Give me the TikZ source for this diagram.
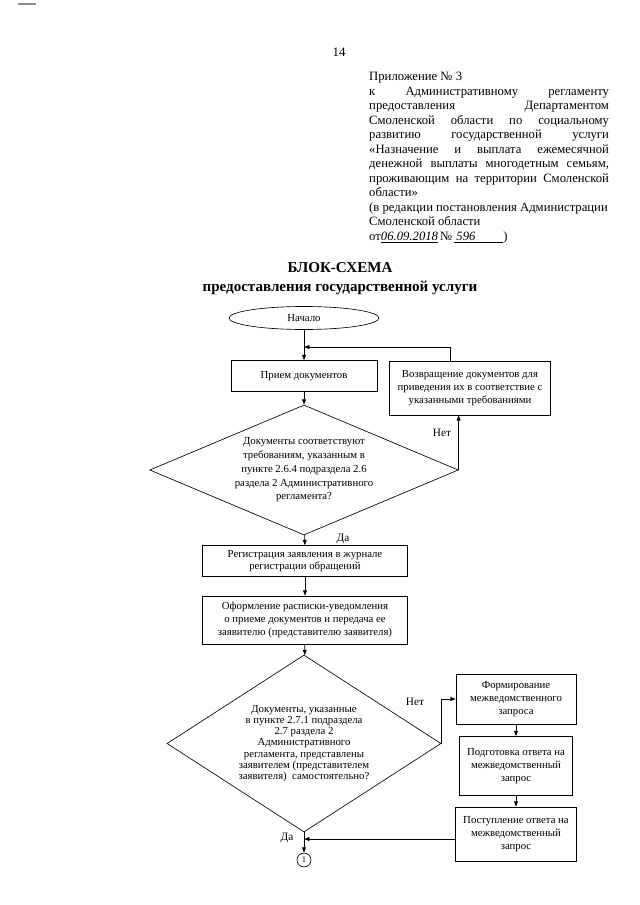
\documentclass[tikz,border=0pt]{standalone}
\usepackage{fontspec}
\setmainfont{Liberation Serif}
\usetikzlibrary{shapes, arrows.meta, positioning, calc}

\newcommand{\jline}[1]{\leavevmode\hbox to 223pt{#1}}

\tikzset{
  flowbox/.style={draw, line width=0.6pt, rectangle, align=center, inner sep=1pt,
    font=\fontsize{10}{11.8}\selectfont},
  decision/.style={draw, line width=0.6pt, diamond, inner sep=0pt},
  arr/.style={-{Triangle[length=5pt, width=3.6pt]}, line width=0.6pt},
  lbl/.style={font=\fontsize{10.5}{12}\selectfont, inner sep=1pt},
}

\begin{document}
\begin{tikzpicture}[x=0.93pt, y=-0.93pt]
  % page frame
  \fill[white] (0,0) rectangle (640,905);
  \useasboundingbox (0,0) rectangle (640,905);
  \draw[black!45, line width=1.3pt] (18,4) -- (36,4); % scan mark

  % Page number and appendix header
  \node[font=\fontsize{12}{14}\selectfont] (pgno) at (339, 52) {14};
  \node[anchor=north west, inner sep=0pt, align=left,
    font=\fontsize{11.8}{13.5}\selectfont] (appx) at (369, 72) {%
    Приложение № 3\\
    \jline{к\hfill Административному\hfill регламенту}\\
    \jline{предоставления\hfill Департаментом}\\
    \jline{Смоленской\hfill области\hfill по\hfill социальному}\\
    \jline{развитию\hfill государственной\hfill услуги}\\
    \jline{«Назначение\hfill и\hfill выплата\hfill ежемесячной}\\
    \jline{денежной\hfill выплаты\hfill многодетным\hfill семьям,}\\
    \jline{проживающим\hfill на\hfill территории\hfill Смоленской}\\
    области»\\
    (в редакции постановления Администрации\\
    Смоленской области\\
    от\underline{\textit{06.09.2018}}\,№\,\underline{\textit{\,596}\hspace{2.2em}})};

  % Title
  \node[font=\fontsize{14}{16}\selectfont\bfseries] (ttl) at (340, 268) {БЛОК-СХЕМА};
  \node[font=\fontsize{14}{16}\selectfont\bfseries] (subttl) at (340, 288)
    {предоставления государственной услуги};

  % Upper part of the flow
  \node[draw, ellipse, line width=0.6pt, minimum width=139.5pt, minimum height=21.4pt,
    inner sep=0pt, font=\fontsize{10}{12}\selectfont] (start) at (304, 318) {Начало};
  \coordinate (j1) at (304, 347);
  \node[flowbox, minimum width=135.8pt, minimum height=28.8pt] (priem) at (304, 376)
    {Прием документов};
  \node[flowbox, minimum width=150pt, minimum height=50.2pt] (vozvr) at (470, 388)
    {Возвращение документов для\\приведения их в соответствие с\\указанными требованиями};
  \node[decision, minimum width=287pt, minimum height=120.9pt] (d1) at (304, 470) {};
  \node[align=center, font=\fontsize{10}{12.8}\selectfont] (d1txt) at (d1.center)
    {Документы соответствуют\\требованиям, указанным в\\пункте 2.6.4 подраздела 2.6\\
     раздела 2 Административного\\регламента?};
  \node[lbl] (net1) at (442, 433) {Нет};
  \node[lbl] (da1) at (343, 539) {Да};

  % Middle part
  \node[flowbox, minimum width=190.7pt, minimum height=28.8pt] (reg) at (305, 561)
    {Регистрация заявления в журнале\\регистрации обращений};
  \node[flowbox, minimum width=190.7pt, minimum height=44.6pt] (ofo) at (305, 620)
    {Оформление расписки-уведомления\\о приеме документов и передача ее\\
     заявителю (представителю заявителя)};
  \node[decision, minimum width=254.8pt, minimum height=164.6pt] (d2) at (304, 743.5) {};
  \node[align=center, font=\fontsize{10}{10.5}\selectfont] (d2txt) at (d2.center)
    {Документы, указанные\\в пункте 2.7.1 подраздела\\2.7 раздела 2\\Административного\\
     регламента, представлены\\заявителем (представителем\\заявителя)~~самостоятельно?};
  \node[lbl] (net2) at (415, 702) {Нет};
  \node[lbl] (da2) at (287, 838) {Да};

  % Interagency request branch
  \node[flowbox, minimum width=111.6pt, minimum height=46.5pt] (form) at (516, 699)
    {Формирование\\межведомственного\\запроса};
  \node[flowbox, minimum width=105pt, minimum height=54.9pt] (podg) at (516, 766)
    {Подготовка ответа на\\межведомственный\\запрос};
  \node[flowbox, minimum width=112.5pt, minimum height=50.2pt] (post) at (516, 834)
    {Поступление ответа на\\межведомственный\\запрос};
  \coordinate (j2) at (304, 839);
  \node[draw, circle, line width=0.6pt, minimum size=13pt, inner sep=0pt,
    font=\fontsize{8}{9}\selectfont] (c1) at (304, 860) {1};

  % Connectors
  \draw[arr] (start) -- (priem);
  \draw[arr] ($(vozvr.north)+(-20,0)$) |- (j1);
  \draw[arr] (priem) -- (d1);
  \draw[arr] (d1.east) -- (d1.east |- vozvr.south);
  \draw[arr] (d1) -- (reg);
  \draw[arr] (reg) -- (ofo);
  \draw[arr] (ofo) -- (d2);
  \draw[arr] (d2.east) |- (form.west);
  \draw[arr] (form) -- (podg);
  \draw[arr] (podg) -- (post);
  \draw[arr] (post.west |- j2) -- (j2);
  \draw[arr] (d2) -- (c1);
\end{tikzpicture}
\end{document}
